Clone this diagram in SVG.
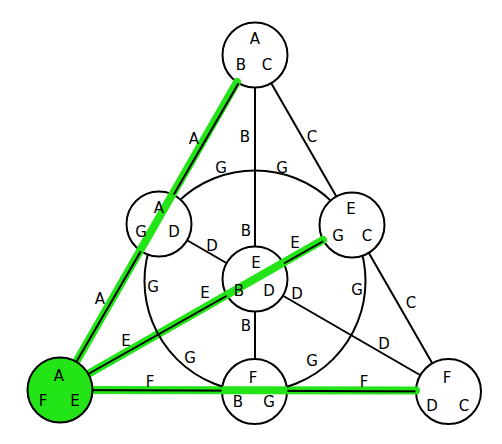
<svg xmlns="http://www.w3.org/2000/svg" width="502" height="444" viewBox="0 0 502 444">
<style>
.n{fill:#fff;stroke:#000;stroke-width:2}
.e{stroke:#000;stroke-width:2;fill:none}
.g{stroke:#22e416;stroke-width:8;stroke-linecap:round;fill:none}
text{font-family:"DejaVu Sans",sans-serif;font-size:15px;text-anchor:middle;fill:#000}
</style>
<defs>
<mask id="m" maskUnits="userSpaceOnUse" x="0" y="0" width="502" height="444">
<rect x="0" y="0" width="502" height="444" fill="#fff"/>
<circle cx="255" cy="55" r="33" fill="#000"/>
<circle cx="159" cy="224" r="33" fill="#000"/>
<circle cx="352" cy="225" r="33" fill="#000"/>
<circle cx="255" cy="279" r="33" fill="#000"/>
<circle cx="60" cy="390" r="33" fill="#000"/>
<circle cx="254.5" cy="391.5" r="33" fill="#000"/>
<circle cx="448.5" cy="391.5" r="33" fill="#000"/>
</mask>
</defs>
<rect width="502" height="444" fill="#fff"/>
<g id="node-top"><circle class="n" cx="255" cy="55" r="32.5"/></g>
<g id="node-left"><circle class="n" cx="159" cy="224" r="32.5"/></g>
<g id="node-right"><circle class="n" cx="352" cy="225" r="32.5"/></g>
<g id="node-center"><circle class="n" cx="255" cy="279" r="32.5"/></g>
<g id="node-bottom"><circle class="n" cx="254.5" cy="391.5" r="32.5"/></g>
<g id="node-br"><circle class="n" cx="448.5" cy="391.5" r="32.5"/></g>
<g id="highlight">
<line class="g" x1="60" y1="390" x2="237" y2="82"/>
<line class="g" x1="60" y1="390" x2="323" y2="240"/>
<line class="g" x1="60" y1="390" x2="416" y2="390.5"/>
</g>
<g id="node-bl"><circle cx="60" cy="390" r="32.5" fill="#22e416" stroke="#000" stroke-width="2"/></g>
<g id="connectors" mask="url(#m)">
<line class="e" x1="255" y1="55" x2="60" y2="390"/>
<line class="e" x1="255" y1="55" x2="448.5" y2="391.5"/>
<line class="e" x1="60" y1="390" x2="448.5" y2="391.5"/>
<line class="e" x1="255" y1="55" x2="255" y2="391.5"/>
<line class="e" x1="60" y1="390" x2="352" y2="225"/>
<line class="e" x1="448.5" y1="391.5" x2="159" y2="224"/>
<circle class="e" cx="255" cy="281" r="110.5"/>
</g>
<g id="node-labels">
<text x="255" y="44">A</text><text x="241" y="70">B</text><text x="267" y="70">C</text>
<text x="159" y="213">A</text><text x="141" y="237">G</text><text x="174" y="237">D</text>
<text x="351" y="214">E</text><text x="338" y="241">G</text><text x="367" y="241">C</text>
<text x="256" y="268">E</text><text x="239" y="296">B</text><text x="269" y="296">D</text>
<text x="59" y="381">A</text><text x="43" y="406">F</text><text x="75" y="406">E</text>
<text x="253" y="383">F</text><text x="238" y="407">B</text><text x="269" y="407">G</text>
<text x="447" y="383">F</text><text x="432" y="411">D</text><text x="464" y="411">C</text>
</g>
<g id="edge-labels">
<text x="194" y="144">A</text><text x="100" y="304">A</text>
<text x="245" y="142">B</text><text x="246" y="236">B</text><text x="246" y="331">B</text>
<text x="312" y="142">C</text><text x="411" y="308">C</text>
<text x="212" y="251">D</text><text x="297" y="299">D</text><text x="384" y="349">D</text>
<text x="295" y="248">E</text><text x="205" y="298">E</text><text x="126" y="346">E</text>
<text x="150" y="387">F</text><text x="364" y="387">F</text>
<text x="221" y="173">G</text><text x="282" y="173">G</text><text x="153" y="292">G</text><text x="357" y="295">G</text><text x="190" y="363">G</text><text x="312" y="366">G</text>
</g>
</svg>
